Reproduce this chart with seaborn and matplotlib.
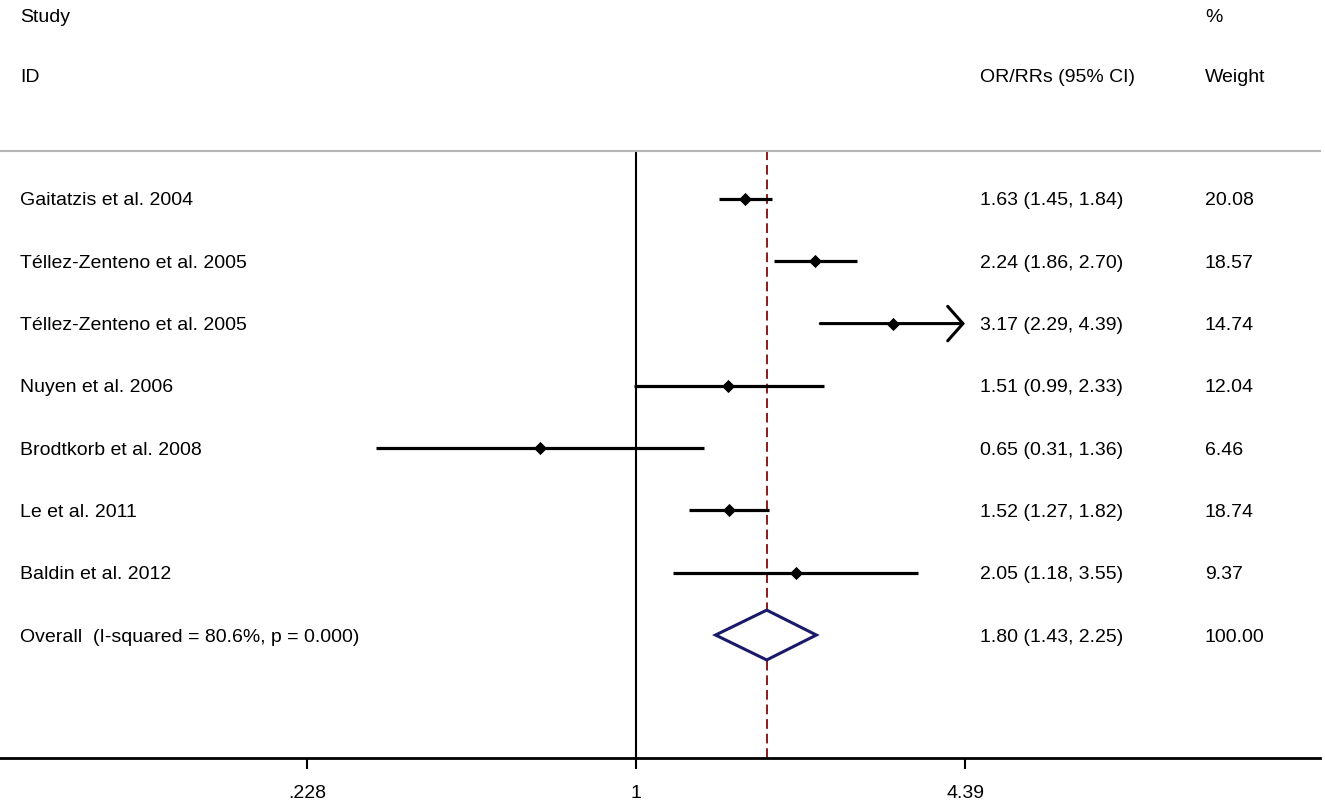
import numpy as np
import pandas as pd
import matplotlib
matplotlib.use("Agg")
import matplotlib.pyplot as plt
import matplotlib.transforms as mtransforms
from matplotlib.ticker import NullLocator
import seaborn as sns

# ---------------- data ----------------
studies = ["Gaitatzis et al. 2004", "Téllez-Zenteno et al. 2005", "Téllez-Zenteno et al. 2005",
           "Nuyen et al. 2006", "Brodtkorb et al. 2008", "Le et al. 2011", "Baldin et al. 2012"]
est = [1.63, 2.24, 3.17, 1.51, 0.65, 1.52, 2.05]
lower = [1.45, 1.86, 2.29, 0.99, 0.31, 1.27, 1.18]
upper = [1.84, 2.70, 4.39, 2.33, 1.36, 1.82, 3.55]
weights = ["20.08", "18.57", "14.74", "12.04", "6.46", "18.74", "9.37"]

overall_label = "Overall  (I-squared = 80.6%, p = 0.000)"
overall_est, overall_lo, overall_hi = 1.80, 1.43, 2.25
overall_weight = "100.00"

tick_vals = [0.228, 1, 4.39]
tick_labels = [".228", "1", "4.39"]

# ---------------- style ----------------
sns.set_theme(style="white")
plt.rcParams["font.family"] = ["Liberation Sans", "DejaVu Sans"]
plt.rcParams["text.color"] = "black"
plt.rcParams["xtick.color"] = "black"
plt.rcParams["xtick.labelcolor"] = "black"
FS = 14

W, H = 1325, 801
fig = plt.figure(figsize=(W / 100, H / 100), dpi=100)
ax_top_px, ax_bot_px, ax_right_px = 151, 757.5, 1320
ax = fig.add_axes([0, (H - ax_bot_px) / H, ax_right_px / W, (ax_bot_px - ax_top_px) / H])

row0_px, row_step = 199, 62.29
def px2row(p):
    return (p - row0_px) / row_step

ax.set_xscale("log")
px_per_unit = 222.4
x_one_px = 636
ax.set_xlim(np.exp(-x_one_px / px_per_unit), np.exp((ax_right_px - x_one_px) / px_per_unit))
ax.set_ylim(px2row(ax_bot_px), px2row(ax_top_px))

df = pd.DataFrame({"study": studies, "est": est, "lo": lower, "hi": upper,
                   "w": weights, "row": np.arange(len(studies))})
axis_max = max(tick_vals)

# reference lines
ax.axvline(1, color="black", lw=1.5, zorder=1)
ax.axvline(overall_est, color="#8b1a1a", lw=1.4, ls=(0, (5, 2.5)), zorder=1)

# CIs
for _, r in df.iterrows():
    if r.hi >= axis_max:
        ax.annotate("", xy=(axis_max, r.row), xytext=(r.lo, r.row),
                    arrowprops=dict(arrowstyle="->,head_length=0.55,head_width=0.62",
                                    lw=2.2, color="black", shrinkA=0, shrinkB=0,
                                    mutation_scale=20), zorder=3)
    else:
        ax.hlines(r.row, r.lo, r.hi, color="black", lw=2.3, zorder=3)

sns.scatterplot(data=df, x="est", y="row", marker="D", color="black", s=45,
                linewidth=0, ax=ax, legend=False, zorder=4)

# overall diamond
orow = len(studies)
dh = 0.4
ax.fill([overall_lo, overall_est, overall_hi, overall_est, overall_lo],
        [orow, orow - dh, orow, orow + dh, orow],
        facecolor="white", edgecolor="#1a1a6b", lw=2.2, zorder=3)

# axes styling
for s in ["left", "right"]:
    ax.spines[s].set_visible(False)
ax.spines["top"].set_color("#b4b4b4")
ax.spines["top"].set_linewidth(1.5)
ax.spines["bottom"].set_color("black")
ax.spines["bottom"].set_linewidth(2)
ax.set_xticks(tick_vals)
ax.set_xticklabels(tick_labels)
ax.xaxis.set_minor_locator(NullLocator())
ax.set_yticks([])
ax.tick_params(axis="x", direction="out", length=8, width=1.5, pad=12,
               labelsize=FS, colors="black", bottom=True)
ax.set_xlabel("")
ax.set_ylabel("")
ax.grid(False)

# text columns
tr = mtransforms.blended_transform_factory(fig.transFigure, ax.transData)
x_study, x_ci, x_w = 20 / W, 980 / W, 1205 / W
kw = dict(transform=tr, fontsize=FS, va="center_baseline", ha="left", color="black")

ax.text(x_study, px2row(16), "Study", **kw)
ax.text(x_study, px2row(76), "ID", **kw)
ax.text(x_ci, px2row(76), "OR/RRs (95% CI)", **kw)
ax.text(x_w, px2row(16), "%", **kw)
ax.text(x_w, px2row(76), "Weight", **kw)

for _, r in df.iterrows():
    ax.text(x_study, r.row, r.study, **kw)
    ax.text(x_ci, r.row, f"{r.est:.2f} ({r.lo:.2f}, {r.hi:.2f})", **kw)
    ax.text(x_w, r.row, r.w, **kw)

ax.text(x_study, orow, overall_label, **kw)
ax.text(x_ci, orow, f"{overall_est:.2f} ({overall_lo:.2f}, {overall_hi:.2f})", **kw)
ax.text(x_w, orow, overall_weight, **kw)

fig.savefig("out.png", dpi=100)
